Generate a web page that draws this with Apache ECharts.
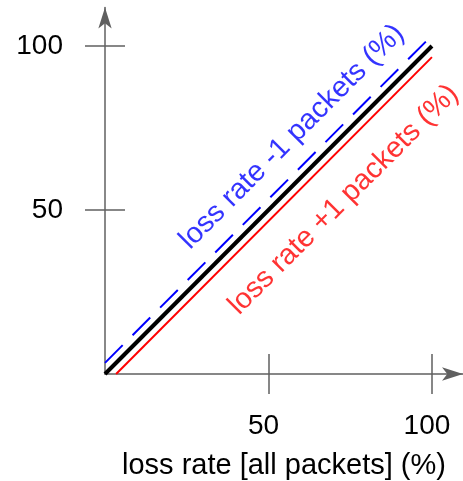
<!DOCTYPE html>
<html>
<head>
<meta charset="utf-8">
<script src="https://cdn.jsdelivr.net/npm/echarts@6/dist/echarts.min.js"></script>
<style>
html,body{margin:0;padding:0;background:#fff;}
#main{width:463px;height:481px;}
</style>
</head>
<body>
<div id="main"></div>
<script>
// ---- data ----
var xTickValues = [50, 100];
var yTickValues = [50, 100];
var xAxisName = 'loss rate [all packets] (%)';
var allPackets = [[0, 0], [100, 100]];
var minusOnePackets = [[0, 3.4], [100, 103.2]];
var plusOnePackets = [[3.4, 0], [100, 96.6]];
var minusLabel = 'loss rate -1 packets (%)';
var plusLabel = 'loss rate +1 packets (%)';
var minusLabelAnchor = [[57.2, 72.3]];
var plusLabelAnchor = [[73.0, 53.1]];

var FONT = '"Liberation Sans", Arial, Helvetica, sans-serif';
var AXIS_COLOR = '#606060';
var chart = echarts.init(document.getElementById('main'), null, {renderer: 'canvas'});

var xMax = 109.5, yMax = 111.7;

function xAx(main) {
  return {
    type: 'value', min: 0, max: xMax, position: 'bottom',
    axisLine: main ? {show: true, onZero: false, symbol: ['none', 'arrow'], symbolSize: [10, 21],
      lineStyle: {color: AXIS_COLOR, width: 1.5}} : {show: false},
    axisTick: {show: true, inside: !main, length: 20, customValues: xTickValues,
      lineStyle: {color: AXIS_COLOR, width: 1.5}},
    axisLabel: main ? {show: true, customValues: xTickValues, margin: 38,
      padding: [0, 10, 0, 0],
      fontSize: 28, color: '#000', fontFamily: FONT} : {show: false},
    splitLine: {show: false},
    name: main ? xAxisName : '',
    nameLocation: 'middle', nameGap: 77,
    nameTextStyle: {fontSize: 29, color: '#000', fontFamily: FONT}
  };
}
function yAx(main) {
  return {
    type: 'value', min: 0, max: yMax, position: 'left',
    axisLine: main ? {show: true, onZero: false, symbol: ['none', 'arrow'], symbolSize: [10, 21],
      lineStyle: {color: AXIS_COLOR, width: 1.5}} : {show: false},
    axisTick: {show: true, inside: !main, length: 20, customValues: yTickValues,
      lineStyle: {color: AXIS_COLOR, width: 1.5}},
    axisLabel: main ? {show: true, customValues: yTickValues, margin: 42,
      padding: [6, 0, 0, 0],
      fontSize: 28, color: '#000', fontFamily: FONT} : {show: false},
    splitLine: {show: false}
  };
}

function textSeries(data, text, color) {
  return {
    type: 'scatter', xAxisIndex: 0, yAxisIndex: 0, data: data, symbolSize: 0,
    silent: true,
    label: {show: true, position: 'inside', formatter: text, rotate: 45,
      align: 'center', verticalAlign: 'middle',
      fontSize: 29, color: color, fontFamily: FONT}
  };
}

chart.setOption({
  animation: false,
  backgroundColor: '#fff',
  grid: {left: 105, right: Math.max(0, 463 - 105 - xMax * 3.27), top: 374 - yMax * 3.28, bottom: 107,
    containLabel: false, outerBoundsMode: 'none'},
  xAxis: [xAx(true), xAx(false)],
  yAxis: [yAx(true), yAx(false)],
  series: [
    {type: 'line', data: minusOnePackets, symbol: 'none',
      lineStyle: {color: '#0000ff', width: 2, type: [25, 14]}},
    {type: 'line', data: plusOnePackets, symbol: 'none',
      lineStyle: {color: '#ff0000', width: 2}},
    {type: 'line', data: allPackets, symbol: 'none',
      lineStyle: {color: '#000000', width: 4}},
    textSeries(minusLabelAnchor, minusLabel, '#0000ff'),
    textSeries(plusLabelAnchor, plusLabel, '#ff0000')
  ]
});
</script>
</body>
</html>
